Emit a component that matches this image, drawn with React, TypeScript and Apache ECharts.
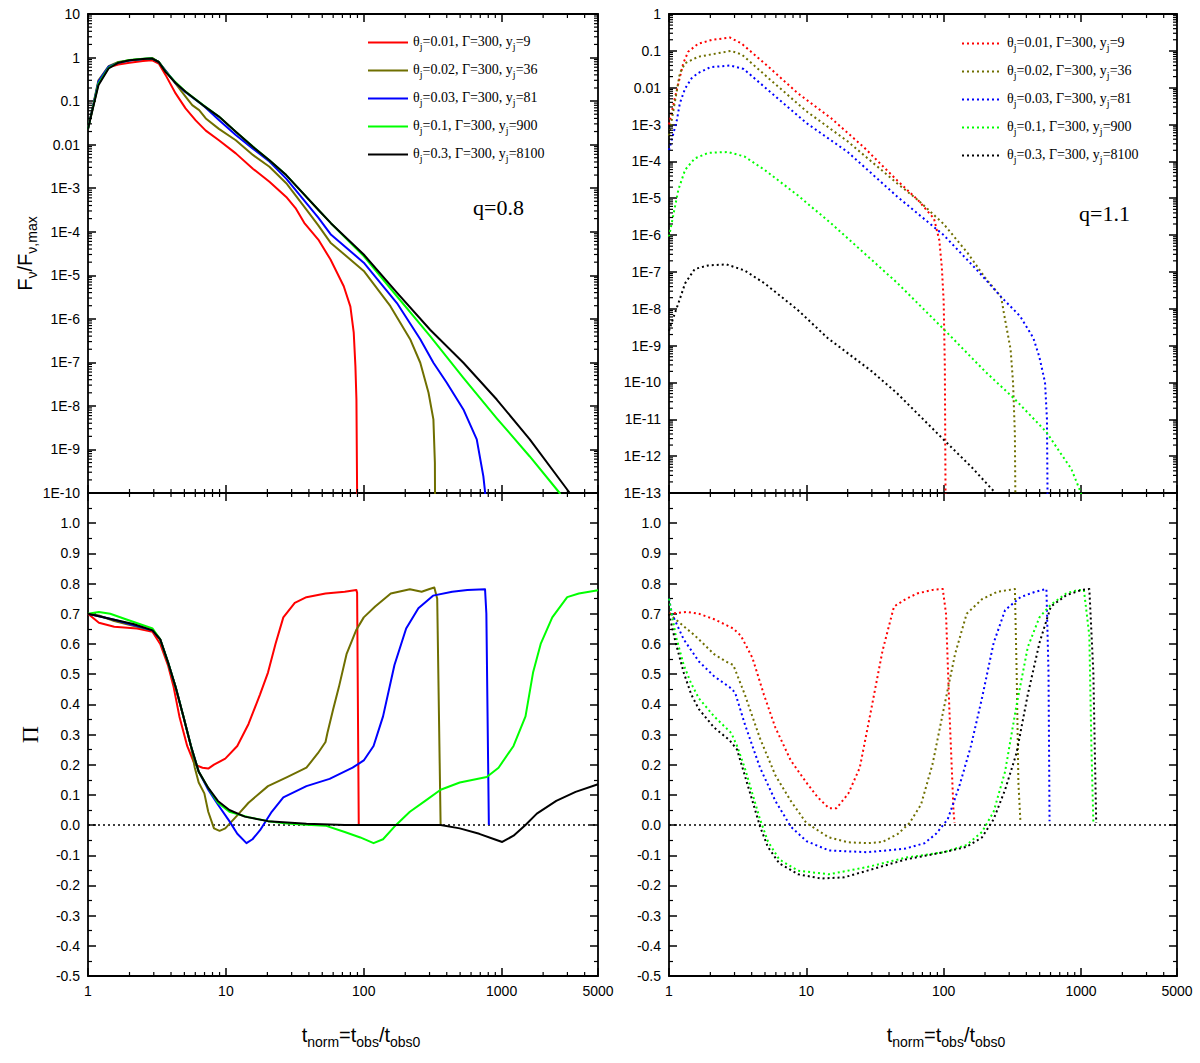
import React, { useEffect, useRef } from "react";
import * as echarts from "echarts";

type Pt = [number, number];

const SERIF = "'Liberation Serif', 'Times New Roman', serif";
const SANS = "'Liberation Sans', Arial, sans-serif";

// legend parameters
const thetaJ = ["0.01", "0.02", "0.03", "0.1", "0.3"];
const gammaJ = ["300", "300", "300", "300", "300"];
const yJ = ["9", "36", "81", "900", "8100"];
const lineColors = ["#ff0000", "#6f6f00", "#0000ff", "#00ff00", "#000000"];

// F_nu / F_nu,max, q = 0.8 (top left)
const fluxQ08Red: Pt[] = [
  [1, 0.023], [1.19, 0.26], [1.41, 0.6], [1.66, 0.69], [2, 0.76], [2.5, 0.83], [2.9, 0.87],
  [3.26, 0.73], [3.65, 0.4], [4.32, 0.15], [5.1, 0.068], [6.04, 0.036], [7.15, 0.021],
  [8.9, 0.0126], [11.8, 0.0063], [15.7, 0.0028], [20.7, 0.0014], [27.4, 6.3e-4], [32, 3.5e-4],
  [37, 1.6e-4], [46.8, 6.6e-5], [57.4, 2.3e-5], [71.6, 5.6e-6], [80, 1.9e-6], [84.6, 4.8e-7],
  [87, 8.1e-8], [88.5, 1.4e-8], [89.5, 1e-10], [89.6, 1e-11],
];
const fluxQ08Olive: Pt[] = [
  [1, 0.023], [1.19, 0.3], [1.41, 0.63], [1.66, 0.79], [2, 0.87], [2.5, 0.93], [2.92, 0.98],
  [3.26, 0.79], [3.65, 0.5], [4.32, 0.25], [5.1, 0.126], [5.7, 0.081], [6.4, 0.062], [7.15, 0.04],
  [8.9, 0.023], [11.8, 0.0126], [15.7, 0.0058], [20.7, 0.0031], [27.4, 0.0013], [38.4, 3.2e-4],
  [46.8, 1.4e-4], [57.4, 5.6e-5], [100, 1.26e-5], [156, 1.95e-6], [217, 3.4e-7], [257, 9.8e-8],
  [295, 2.0e-8], [320, 4.9e-9], [328, 5e-10], [330, 1e-11],
];
const fluxQ08Blue: Pt[] = [
  [1, 0.023], [1.19, 0.28], [1.41, 0.62], [1.66, 0.76], [2, 0.85], [2.5, 0.93], [2.92, 0.95],
  [3.26, 0.79], [3.65, 0.5], [4.32, 0.26], [5.1, 0.16], [6.8, 0.081], [8.9, 0.037], [11.8, 0.0166],
  [15.7, 0.0081], [20.7, 0.0041], [27.4, 0.00166], [46.8, 2.1e-4], [58, 8.5e-5], [100, 1.95e-5],
  [174, 2.3e-6], [257, 3.4e-7], [320, 9.8e-8], [400, 3.4e-8], [528, 8.3e-9], [660, 1.7e-9],
  [737, 2.4e-10], [760, 1e-10], [762, 1e-11],
];
const fluxQ08Green: Pt[] = [
  [1, 0.023], [1.19, 0.25], [1.41, 0.58], [1.66, 0.77], [2, 0.88], [2.5, 0.94], [2.92, 0.96],
  [3.26, 0.8], [3.65, 0.48], [4.32, 0.27], [5.1, 0.165], [6.8, 0.082], [8.9, 0.044], [11.8, 0.0197],
  [15.7, 0.009], [20.7, 0.0044], [27.4, 0.002], [46.8, 3.2e-4], [58, 1.55e-4], [100, 2.75e-5],
  [174, 3.3e-6], [303, 4.0e-7], [528, 4.4e-8], [922, 5.2e-9], [1600, 6.9e-10], [2635, 1e-10],
  [2900, 4e-11],
];
const fluxQ08Black: Pt[] = [
  [1, 0.023], [1.19, 0.23], [1.41, 0.56], [1.66, 0.76], [2, 0.87], [2.5, 0.93], [2.92, 0.95],
  [3.26, 0.79], [3.65, 0.47], [4.32, 0.26], [5.1, 0.164], [6.8, 0.081], [8.9, 0.044], [11.8, 0.0197],
  [15.7, 0.0089], [20.7, 0.0044], [27.4, 0.002], [46.8, 3.2e-4], [58, 1.55e-4], [100, 3.0e-5],
  [174, 4.0e-6], [303, 5.6e-7], [528, 9.8e-8], [922, 1.4e-8], [1600, 1.7e-9], [3120, 1e-10],
  [3400, 4e-11],
];

// F_nu / F_nu,max, q = 1.1 (top right)
const fluxQ11Red: Pt[] = [
  [1, 1e-3], [1.1, 5e-3], [1.17, 0.013], [1.27, 0.046], [1.38, 0.095], [1.63, 0.155], [2.04, 0.197],
  [2.77, 0.23], [3.36, 0.16], [4.96, 0.046], [8.66, 0.0071], [15.1, 0.0015], [26.3, 2.4e-4],
  [46, 3e-5], [65, 8.9e-6], [85, 2.8e-6], [93, 7.2e-7], [97, 1.3e-7], [100, 1.6e-8], [102, 2.5e-10],
  [103.5, 1e-14],
];
const fluxQ11Olive: Pt[] = [
  [1, 5e-4], [1.1, 0.0038], [1.2, 0.025], [1.31, 0.046], [1.63, 0.069], [2.84, 0.1], [3.4, 0.079],
  [5, 0.022], [10, 0.0023], [20, 3.5e-4], [46, 2.5e-5], [65, 8.9e-6], [100, 2e-6], [150, 3.2e-7],
  [200, 7e-8], [262, 2.1e-8], [277, 6.3e-9], [307, 8e-10], [320, 1e-10], [330, 4e-12], [334, 1e-14],
];
const fluxQ11Blue: Pt[] = [
  [1, 2e-4], [1.14, 1.3e-3], [1.2, 3.8e-3], [1.31, 0.0095], [1.46, 0.018], [1.63, 0.025], [2, 0.036],
  [2.8, 0.04], [3.5, 0.032], [5, 0.0102], [10, 0.0011], [20, 1.8e-4], [46, 1.1e-5], [100, 1e-6],
  [180, 1e-7], [262, 2.1e-8], [360, 6.3e-9], [450, 1.6e-9], [497, 5e-10], [547, 1e-10], [565, 1e-11],
  [573, 1e-14],
];
const fluxQ11Green: Pt[] = [
  [1, 9e-7], [1.07, 3.2e-6], [1.17, 1.7e-5], [1.31, 5.9e-5], [1.54, 1.2e-4], [1.93, 1.7e-4],
  [2.69, 1.8e-4], [3.55, 1.35e-4], [4.96, 5.9e-5], [8.66, 1.2e-5], [15.1, 2.1e-6], [30, 2.1e-7],
  [46, 5e-8], [100, 2.8e-9], [200, 2e-10], [330, 3.5e-11], [560, 4.5e-12], [700, 1.3e-12],
  [850, 4.5e-13], [1000, 1e-13], [1020, 5e-14],
];
const fluxQ11Black: Pt[] = [
  [1, 2.5e-9], [1.08, 6e-9], [1.17, 1.4e-8], [1.31, 4.9e-8], [1.54, 1.2e-7], [1.93, 1.5e-7],
  [2.62, 1.6e-7], [3.55, 1.1e-7], [4.96, 4.9e-8], [8.66, 9.3e-9], [14.3, 1.6e-9], [30, 2.0e-10],
  [46, 5e-11], [100, 2.8e-12], [160, 5e-13], [238, 1e-13], [250, 6e-14],
];

// polarization degree, q = 0.8 (bottom left)
const polQ08Red: Pt[] = [
  [1, 0.7], [1.2, 0.67], [1.55, 0.657], [2.27, 0.651], [2.94, 0.64], [3.34, 0.6], [3.8, 0.53],
  [4.18, 0.457], [4.6, 0.36], [5.24, 0.262], [5.95, 0.2], [6.77, 0.19], [7.45, 0.187], [8.2, 0.2],
  [9.9, 0.22], [12.1, 0.262], [14.6, 0.335], [17.7, 0.433], [20.2, 0.505], [22.9, 0.6], [26.1, 0.688],
  [31.6, 0.736], [38.4, 0.755], [52.8, 0.767], [72.8, 0.773], [88.3, 0.779], [89.5, 0.77], [92, 0],
];
const polQ08Olive: Pt[] = [
  [1, 0.7], [1.2, 0.694], [1.55, 0.676], [2.27, 0.657], [2.94, 0.645], [3.34, 0.615], [3.8, 0.54],
  [4.32, 0.457], [4.92, 0.36], [5.58, 0.262], [5.95, 0.19], [6.35, 0.141], [6.98, 0.105],
  [7.45, 0.044], [8.2, -0.011], [9.0, -0.019], [9.9, -0.011], [12.1, 0.032], [14.6, 0.074],
  [20.2, 0.129], [27.8, 0.159], [38.4, 0.19], [46.5, 0.238], [52.8, 0.275], [54.5, 0.305],
  [60, 0.384], [66, 0.457], [75, 0.566], [88, 0.645], [100, 0.688], [121, 0.724], [157, 0.767],
  [216, 0.781], [263, 0.773], [300, 0.782], [325, 0.787], [341, 0.75], [361, 0],
];
const polQ08Blue: Pt[] = [
  [1, 0.7], [1.55, 0.68], [2.13, 0.663], [2.94, 0.645], [3.34, 0.615], [3.8, 0.54], [4.32, 0.457],
  [4.92, 0.36], [5.58, 0.262], [6.35, 0.177], [7.45, 0.117], [8.75, 0.068], [10.6, 0.013],
  [12.1, -0.029], [14.1, -0.06], [15.6, -0.047], [17.7, -0.017], [21.5, 0.044], [26.1, 0.092],
  [38.4, 0.129], [56.5, 0.153], [83, 0.19], [100, 0.214], [117.8, 0.262], [138, 0.36], [167, 0.53],
  [203, 0.651], [249, 0.718], [318, 0.76], [438, 0.773], [564, 0.779], [758, 0.781], [775, 0.7],
  [808, 0],
];
const polQ08Green: Pt[] = [
  [1, 0.7], [1.2, 0.706], [1.45, 0.7], [1.88, 0.682], [2.94, 0.651], [3.34, 0.615], [3.8, 0.54],
  [4.32, 0.457], [4.92, 0.36], [5.58, 0.262], [6.35, 0.177], [7.45, 0.123], [8.75, 0.074],
  [10.6, 0.044], [14.6, 0.026], [20.2, 0.013], [27.8, 0.005], [38.4, 0.001], [52.8, -0.002],
  [72.8, -0.023], [94.4, -0.041], [117.8, -0.06], [138, -0.047], [167, -0.005], [216, 0.044],
  [279, 0.08], [361, 0.117], [497, 0.141], [780, 0.159], [950, 0.19], [1220, 0.262], [1490, 0.36],
  [1690, 0.505], [1920, 0.6], [2330, 0.688], [2990, 0.755], [3630, 0.767], [5000, 0.778],
];
const polQ08Black: Pt[] = [
  [1, 0.7], [1.55, 0.68], [2.13, 0.666], [2.94, 0.645], [3.34, 0.615], [3.8, 0.54], [4.32, 0.457],
  [4.92, 0.36], [5.58, 0.262], [6.35, 0.177], [7.45, 0.123], [8.75, 0.08], [10.6, 0.05],
  [13.7, 0.028], [20.2, 0.013], [38.4, 0.004], [72.8, 0], [361, 0], [497, -0.011], [688, -0.029],
  [886, -0.047], [1010, -0.056], [1220, -0.035], [1490, 0], [1800, 0.038], [2490, 0.08],
  [3440, 0.11], [5000, 0.135],
];

// polarization degree, q = 1.1 (bottom right)
const polQ11Red: Pt[] = [
  [1, 0.7], [1.36, 0.706], [1.65, 0.7], [2.13, 0.682], [2.94, 0.651], [3.34, 0.627], [4.05, 0.554],
  [4.9, 0.433], [5.95, 0.323], [7.7, 0.214], [10, 0.141], [12.1, 0.092], [14.6, 0.056], [16.6, 0.056],
  [20.2, 0.104], [24.5, 0.19], [29.7, 0.384], [35.9, 0.578], [43.5, 0.724], [52.7, 0.748], [64, 0.767],
  [83, 0.779], [98.5, 0.782], [104, 0.7], [110, 0.384], [118, 0.044], [120, 0.007],
];
const polQ11Olive: Pt[] = [
  [1, 0.7], [1.55, 0.627], [2.13, 0.566], [2.59, 0.542], [2.94, 0.53], [3.56, 0.433], [4.6, 0.287],
  [5.95, 0.165], [7.7, 0.08], [10, 0.007], [14.6, -0.041], [20.2, -0.057], [27.8, -0.06],
  [35.9, -0.056], [46.5, -0.029], [56.5, 0.007], [68.4, 0.068], [83, 0.202], [100, 0.384],
  [121, 0.566], [147, 0.7], [190, 0.748], [246, 0.773], [330, 0.782], [340, 0.505], [350, 0.141],
  [362, 0.013],
];
const polQ11Blue: Pt[] = [
  [1, 0.75], [1.05, 0.7], [1.28, 0.615], [1.65, 0.542], [2.13, 0.493], [2.76, 0.457], [3.03, 0.439],
  [3.56, 0.335], [4.6, 0.19], [5.95, 0.08], [7.7, -0.005], [10, -0.053], [14.6, -0.084], [27.8, -0.09],
  [52.7, -0.078], [72.5, -0.06], [88, -0.029], [107, 0.019], [130, 0.129], [158, 0.262], [190, 0.42],
  [231, 0.603], [280, 0.712], [362, 0.755], [465, 0.773], [560, 0.782], [580, 0.505], [590, 0.013],
];
const polQ11Green: Pt[] = [
  [1, 0.75], [1.12, 0.627], [1.28, 0.53], [1.45, 0.469], [1.65, 0.42], [2.13, 0.36], [2.84, 0.305],
  [3.13, 0.262], [3.56, 0.19], [4.05, 0.104], [4.6, 0.019], [5.24, -0.053], [6.35, -0.114],
  [8.7, -0.151], [14.6, -0.163], [27.8, -0.139], [52.7, -0.108], [100, -0.09], [147, -0.066],
  [190, -0.023], [231, 0.044], [280, 0.177], [339, 0.396], [410, 0.59], [498, 0.688], [603, 0.73],
  [780, 0.767], [950, 0.779], [1050, 0.779], [1150, 0.627], [1190, 0.262], [1230, 0.007],
];
const polQ11Black: Pt[] = [
  [1, 0.7], [1.12, 0.603], [1.28, 0.505], [1.45, 0.433], [1.65, 0.384], [2.13, 0.323], [2.76, 0.281],
  [3.13, 0.25], [3.56, 0.165], [4.05, 0.08], [4.6, -0.005], [5.24, -0.072], [6.35, -0.127],
  [8.7, -0.163], [12.8, -0.177], [18.9, -0.173], [27.8, -0.151], [52.7, -0.114], [100, -0.09],
  [147, -0.072], [190, -0.041], [231, 0.019], [280, 0.117], [339, 0.238], [410, 0.433], [498, 0.603],
  [603, 0.724], [780, 0.761], [1010, 0.779], [1150, 0.782], [1230, 0.505], [1290, 0.007],
];

const zeroLine: Pt[] = [[1, 0], [5000, 0]];

const fluxQ08 = [fluxQ08Red, fluxQ08Olive, fluxQ08Blue, fluxQ08Green, fluxQ08Black];
const fluxQ11 = [fluxQ11Red, fluxQ11Olive, fluxQ11Blue, fluxQ11Green, fluxQ11Black];
const polQ08 = [polQ08Red, polQ08Olive, polQ08Blue, polQ08Green, polQ08Black];
const polQ11 = [polQ11Red, polQ11Olive, polQ11Blue, polQ11Green, polQ11Black];

// panel rectangles: top-left, bottom-left, top-right, bottom-right
const GRIDS = [
  { left: 88, top: 14, width: 510, height: 479 },
  { left: 88, top: 493, width: 510, height: 483 },
  { left: 669, top: 14, width: 508, height: 479 },
  { left: 669, top: 493, width: 508, height: 483 },
];
const X_MIN = 1;
const X_MAX = 5000;
const FLUX_RANGES: [number, number][] = [[1e-10, 10], [1e-13, 1]];

const axisLine = { show: true, onZero: false, lineStyle: { color: "#000", width: 1.8 } };
const majorTick = { show: true, inside: true, length: 8, lineStyle: { color: "#000", width: 1.5 } };
const labelStyle = { color: "#000", fontSize: 14, fontFamily: SANS };

const legendRich = {
  m: { fontSize: 14, fontFamily: SERIF, color: "#000", lineHeight: 17, verticalAlign: "top" },
  s: { fontSize: 10, fontFamily: SERIF, color: "#000", lineHeight: 10, padding: [9, 0, 0, 0], verticalAlign: "bottom" },
};
const titleRich = {
  m: { fontSize: 20, fontFamily: SANS, color: "#000", lineHeight: 24, verticalAlign: "top" },
  s: { fontSize: 14, fontFamily: SANS, color: "#000", lineHeight: 14, padding: [12, 0, 0, 0], verticalAlign: "bottom" },
};

const legendLabel = (name: string) => {
  const i = Number(name.slice(1));
  return `{m|θ}{s|j}{m|=${thetaJ[i]}, Γ=${gammaJ[i]}, y}{s|j}{m|=${yJ[i]}}`;
};

const logLabel = (v: number) => {
  const e = Math.round(Math.log10(v));
  if (e >= 0) return String(Math.pow(10, e));
  if (e === -1) return "0.1";
  if (e === -2) return "0.01";
  return "1E" + e;
};

const logMinor = (lo: number, hi: number) => {
  const out: number[] = [];
  for (let d = Math.floor(Math.log10(lo)); d < Math.ceil(Math.log10(hi)); d++) {
    for (let m = 2; m <= 9; m++) {
      const v = m * Math.pow(10, d);
      if (v > lo * 1.0001 && v < hi * 0.9999) out.push(v);
    }
  }
  return out;
};

const xAxisFor = (gridIndex: number, position: string, labels: boolean) => ({
  type: "log",
  logBase: 10,
  gridIndex,
  position,
  min: X_MIN,
  max: X_MAX,
  interval: 1,
  axisLine,
  axisTick: majorTick,
  axisLabel: {
    show: labels,
    ...labelStyle,
    margin: 8,
    showMinLabel: true,
    showMaxLabel: true,
    formatter: (v: number) => String(Math.round(v)),
  },
  splitLine: { show: false },
});

const fluxYAxis = (gridIndex: number, position: string, range: [number, number], labels: boolean) => ({
  type: "log",
  logBase: 10,
  gridIndex,
  position,
  min: range[0],
  max: range[1],
  interval: 1,
  splitNumber: Math.round(Math.log10(range[1] / range[0])),
  axisLine,
  axisTick: majorTick,
  axisLabel: { show: labels, ...labelStyle, margin: 8, showMinLabel: true, showMaxLabel: true, formatter: logLabel },
  splitLine: { show: false },
  name: labels && gridIndex === 0 ? "{m|F}{s|ν}{m|/F}{s|ν,max}" : "",
  nameLocation: "middle",
  nameRotate: 90,
  nameGap: 44,
  nameTextStyle: { rich: titleRich },
});

const polYAxis = (gridIndex: number, position: string, labels: boolean) => ({
  type: "value",
  gridIndex,
  position,
  min: -0.5,
  max: 1.1,
  interval: 0.1,
  axisLine,
  axisTick: majorTick,
  minorTick: { show: true, splitNumber: 2, length: 4, lineStyle: { color: "#000", width: 1.2 } },
  axisLabel: {
    show: labels,
    ...labelStyle,
    margin: 8,
    formatter: (v: number) => (v > 1.05 ? "" : (Math.round(v * 10) / 10).toFixed(1)),
  },
  splitLine: { show: false },
  name: labels && gridIndex === 1 ? "Π" : "",
  nameLocation: "middle",
  nameRotate: 90,
  nameGap: 46,
  nameTextStyle: { fontSize: 24, fontFamily: SERIF, color: "#000" },
});

const lineSeries = (name: string, data: Pt[], axis: number, color: string, dotted: boolean) => ({
  name,
  type: "line",
  xAxisIndex: axis,
  yAxisIndex: axis,
  data,
  symbol: "none",
  showSymbol: false,
  clip: true,
  itemStyle: { color },
  lineStyle: { color, width: 2, type: dotted ? [2, 3] : "solid", join: "round" },
});

const App: React.FC = () => {
  const chartRef = useRef<HTMLDivElement>(null);

  useEffect(() => {
    document.body.style.margin = "0";
    if (!chartRef.current) return;
    const chart = echarts.init(chartRef.current, null, { renderer: "svg" });

    const series: any[] = [];
    fluxQ08.forEach((d, i) => series.push(lineSeries(`L${i}`, d, 0, lineColors[i], false)));
    polQ08.forEach((d, i) => series.push(lineSeries(`PL${i}`, d, 2, lineColors[i], false)));
    fluxQ11.forEach((d, i) => series.push(lineSeries(`R${i}`, d, 4, lineColors[i], true)));
    polQ11.forEach((d, i) => series.push(lineSeries(`PR${i}`, d, 6, lineColors[i], true)));
    series.push({ ...lineSeries("ZL", zeroLine, 2, "#000", true), lineStyle: { color: "#000", width: 1.5, type: [2, 3] }, z: 1 });
    series.push({ ...lineSeries("ZR", zeroLine, 6, "#000", true), lineStyle: { color: "#000", width: 1.5, type: [2, 3] }, z: 1 });

    const legendBase = {
      orient: "vertical",
      itemWidth: 40,
      itemHeight: 10,
      itemGap: 9,
      padding: 0,
      selectedMode: false,
      itemStyle: { opacity: 0 },
      formatter: legendLabel,
      textStyle: { color: "#000", fontFamily: SERIF, fontSize: 14, rich: legendRich },
    };

    const option = {
      animation: false,
      backgroundColor: "#fff",
      grid: GRIDS.map((g) => ({ ...g, containLabel: false, outerBoundsMode: "none" })),
      xAxis: [
        xAxisFor(0, "bottom", false),
        xAxisFor(0, "top", false),
        xAxisFor(1, "bottom", true),
        xAxisFor(1, "top", false),
        xAxisFor(2, "bottom", false),
        xAxisFor(2, "top", false),
        xAxisFor(3, "bottom", true),
        xAxisFor(3, "top", false),
      ],
      yAxis: [
        fluxYAxis(0, "left", FLUX_RANGES[0], true),
        fluxYAxis(0, "right", FLUX_RANGES[0], false),
        polYAxis(1, "left", true),
        polYAxis(1, "right", false),
        fluxYAxis(2, "left", FLUX_RANGES[1], true),
        fluxYAxis(2, "right", FLUX_RANGES[1], false),
        polYAxis(3, "left", true),
        polYAxis(3, "right", false),
      ],
      legend: [
        { ...legendBase, left: 367, top: 32, data: fluxQ08.map((_, i) => `L${i}`) },
        { ...legendBase, left: 961, top: 33, data: fluxQ11.map((_, i) => `R${i}`) },
      ],
      series,
    };
    chart.setOption(option as any);

    // annotations, axis titles and logarithmic minor ticks
    const elements: any[] = [
      {
        type: "text", x: 473, y: 207,
        style: { text: "q=0.8", fontSize: 22, fontFamily: SERIF, fill: "#000", align: "left", verticalAlign: "middle" },
      },
      {
        type: "text", x: 1079, y: 213,
        style: { text: "q=1.1", fontSize: 22, fontFamily: SERIF, fill: "#000", align: "left", verticalAlign: "middle" },
      },
      ...[361, 946].map((cx) => ({
        type: "text", x: cx, y: 1037,
        style: { text: "{m|t}{s|norm}{m|=t}{s|obs}{m|/t}{s|obs0}", rich: titleRich, align: "center", verticalAlign: "middle" },
      })),
    ];
    const tickStyle = { stroke: "#000", lineWidth: 1.2 };
    for (let i = 0; i < 8; i++) {
      const g = GRIDS[Math.floor(i / 2)];
      const atBottom = i % 2 === 0;
      const y0 = atBottom ? g.top + g.height : g.top;
      const y1 = atBottom ? y0 - 4 : y0 + 4;
      logMinor(X_MIN, X_MAX).forEach((v) => {
        const px = chart.convertToPixel({ xAxisIndex: i } as any, v) as unknown as number;
        elements.push({ type: "line", silent: true, z: 10, shape: { x1: px, y1: y0, x2: px, y2: y1 }, style: tickStyle });
      });
    }
    [0, 1, 4, 5].forEach((i) => {
      const gi = i < 2 ? 0 : 2;
      const g = GRIDS[gi];
      const range = FLUX_RANGES[gi === 0 ? 0 : 1];
      const atLeft = i % 2 === 0;
      const x0 = atLeft ? g.left : g.left + g.width;
      const x1 = atLeft ? x0 + 4 : x0 - 4;
      logMinor(range[0], range[1]).forEach((v) => {
        const py = chart.convertToPixel({ yAxisIndex: i } as any, v) as unknown as number;
        elements.push({ type: "line", silent: true, z: 10, shape: { x1: x0, y1: py, x2: x1, y2: py }, style: tickStyle });
      });
    });
    chart.setOption({ graphic: { elements } } as any);

    return () => {
      chart.dispose();
    };
  }, []);

  return <div ref={chartRef} style={{ width: 1200, height: 1063 }} />;
};

export default App;
